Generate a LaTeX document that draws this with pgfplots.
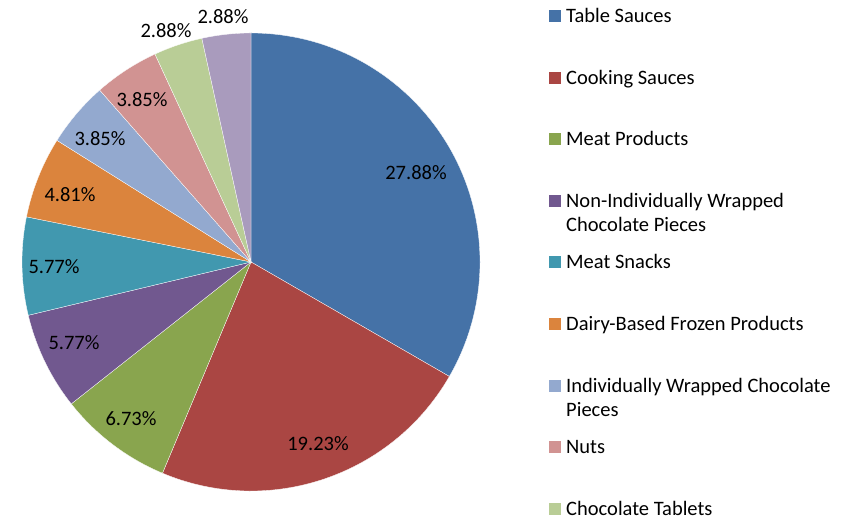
\documentclass[border=0pt]{standalone}
\usepackage{pgfplots}
\usepackage{pgfplotstable}
\pgfplotsset{compat=1.18}
\usepackage{fontspec}
\setmainfont{Carlito}

\definecolor{c0}{HTML}{4572A7}
\definecolor{c1}{HTML}{AA4643}
\definecolor{c2}{HTML}{89A54E}
\definecolor{c3}{HTML}{71588F}
\definecolor{c4}{HTML}{4198AF}
\definecolor{c5}{HTML}{DB843D}
\definecolor{c6}{HTML}{93A9CF}
\definecolor{c7}{HTML}{D19392}
\definecolor{c8}{HTML}{B9CD96}
\definecolor{c9}{HTML}{A99BBD}

% share, label position (x from left, y from top)
\pgfplotstableread{
value lx ly
27.88 416 173
19.23 318 444
6.73 131 419
5.77 74 343
5.77 54 267
4.81 70 195
3.85 100 139
3.85 142 100
2.88 166 31
2.88 223 17
}\piedata

\begin{document}
\fontsize{20.5bp}{24.5bp}\selectfont
\begin{tikzpicture}
% total and slice angles (clockwise from 12 o'clock)
\pgfmathsetmacro\total{0}
\pgfplotsforeachungrouped \i in {0,...,9}{%
  \pgfplotstablegetelem{\i}{value}\of\piedata
  \pgfmathsetmacro\total{\total+\pgfplotsretval}%
}
\def\cum{0}
\pgfplotsforeachungrouped \i in {0,...,9}{%
  \pgfplotstablegetelem{\i}{value}\of\piedata
  \expandafter\xdef\csname lv\i\endcsname{\pgfplotsretval}%
  \pgfmathsetmacro\startang{90-360*(\cum/\total)}%
  \pgfmathsetmacro\cum{\cum+\pgfplotsretval}%
  \pgfmathsetmacro\endang{90-360*(\cum/\total)}%
  \expandafter\xdef\csname sa\i\endcsname{\startang}%
  \expandafter\xdef\csname ea\i\endcsname{\endang}%
  \pgfplotstablegetelem{\i}{lx}\of\piedata
  \expandafter\xdef\csname lx\i\endcsname{\pgfplotsretval}%
  \pgfplotstablegetelem{\i}{ly}\of\piedata
  \pgfmathsetmacro\tmp{520-\pgfplotsretval}%
  \expandafter\xdef\csname ly\i\endcsname{\tmp}%
}
\begin{axis}[
    width=852bp, height=520bp, scale only axis,
    xmin=0, xmax=852, ymin=0, ymax=520,
    hide axis, clip=false,
]
\path (axis cs:0,0) rectangle (axis cs:852,520);
\pgfplotsinvokeforeach{0,...,9}{
  \fill[c#1, draw=white, line width=0.3bp] (axis cs:251,258) -- ++(\csname sa#1\endcsname:229bp)
    arc[start angle=\csname sa#1\endcsname, end angle=\csname ea#1\endcsname, radius=229bp] -- cycle;
}
\pgfplotsinvokeforeach{0,...,9}{
  \node[inner sep=0pt] at (axis cs:\csname lx#1\endcsname,\csname ly#1\endcsname) {\csname lv#1\endcsname\%};
}
% legend
\pgfplotsinvokeforeach{0,...,8}{
  \fill[c#1] (axis cs:549,{520-10-61.6*#1}) rectangle (axis cs:561,{520-22-61.6*#1});
}
\node[anchor=base west, inner sep=0pt] at (axis cs:566,{520-22.5-61.6*0}) {Table Sauces};
\node[anchor=base west, inner sep=0pt] at (axis cs:566,{520-22.5-61.6*1}) {Cooking Sauces};
\node[anchor=base west, inner sep=0pt] at (axis cs:566,{520-22.5-61.6*2}) {Meat Products};
\node[anchor=base west, inner sep=0pt] at (axis cs:566,{520-22.5-61.6*3}) {Non-Individually Wrapped};
\node[anchor=base west, inner sep=0pt] at (axis cs:566,{520-22.5-61.6*3-24.5}) {Chocolate Pieces};
\node[anchor=base west, inner sep=0pt] at (axis cs:566,{520-22.5-61.6*4}) {Meat Snacks};
\node[anchor=base west, inner sep=0pt] at (axis cs:566,{520-22.5-61.6*5}) {Dairy-Based Frozen Products};
\node[anchor=base west, inner sep=0pt] at (axis cs:566,{520-22.5-61.6*6}) {Individually Wrapped Chocolate};
\node[anchor=base west, inner sep=0pt] at (axis cs:566,{520-22.5-61.6*6-24.5}) {Pieces};
\node[anchor=base west, inner sep=0pt] at (axis cs:566,{520-22.5-61.6*7}) {Nuts};
\node[anchor=base west, inner sep=0pt] at (axis cs:566,{520-22.5-61.6*8}) {Chocolate Tablets};
\end{axis}
\end{tikzpicture}
\end{document}
